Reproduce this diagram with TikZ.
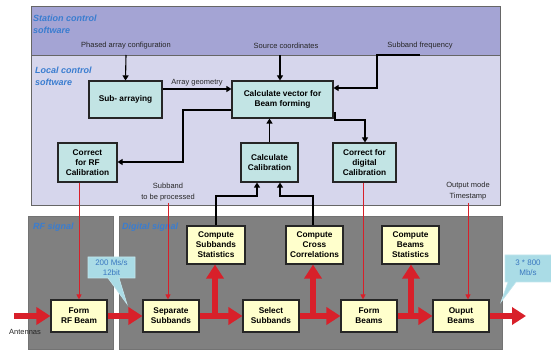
\documentclass[tikz,border=0pt]{standalone}
\usepackage{fontspec}
\setmainfont{Liberation Sans}
\usetikzlibrary{arrows.meta}
\definecolor{stationC}{HTML}{A4A4D4}
\definecolor{localC}{HTML}{D6D6EC}
\definecolor{panelC}{HTML}{808080}
\definecolor{tealC}{HTML}{C2E4E4}
\definecolor{yelC}{HTML}{FFFFCC}
\definecolor{redC}{HTML}{D8202A}
\definecolor{titleC}{HTML}{3A7DD0}
\definecolor{callC}{HTML}{AADCE6}
\definecolor{callT}{HTML}{3A78C0}
\tikzset{
  box/.style={draw=black!85, line width=1.1pt, align=center, inner sep=0pt,
    font=\fontsize{8.3}{10}\selectfont\bfseries},
  tealbox/.style={box, fill=tealC},
  yelbox/.style={box, fill=yelC, minimum width=56pt, minimum height=32pt},
  statbox/.style={box, fill=yelC, minimum width=57pt, minimum height=38pt},
  lbl/.style={font=\fontsize{7.5}{11}\selectfont, align=center, text=black!85, inner sep=0pt},
  ttl/.style={font=\fontsize{9}{12}\selectfont\bfseries\itshape, text=titleC, align=left, anchor=west, inner sep=0pt},
  bigarrow/.style={draw=redC, line width=5.5pt, -{Triangle[length=14pt,width=17pt]}},
  thinred/.style={draw=redC, line width=0.9pt, -{Triangle[length=5pt,width=5pt]}},
  blk/.style={draw=black, line width=1.1pt, -{Triangle[length=5pt,width=6pt]}},
  calltext/.style={font=\fontsize{8}{10}\selectfont, text=callT, align=center, inner sep=0pt}
}
\begin{document}
\begin{tikzpicture}[x=1pt,y=-1pt]
\useasboundingbox (0,0) rectangle (551,352);
% panels
\filldraw[fill=stationC, draw=black!60, line width=0.8pt] (31,6) rectangle (500,55);
\filldraw[fill=localC, draw=black!60, line width=0.8pt] (31,55) rectangle (500,205);
\filldraw[fill=panelC, draw=black!55, line width=0.8pt] (28,216) rectangle (113,349);
\filldraw[fill=panelC, draw=black!55, line width=0.8pt] (119,216) rectangle (502,349);
% titles
\node[ttl] (tst) at (33,24) {Station control\\software};
\node[ttl] (tlc) at (35,76) {Local control\\software};
\node[ttl] (trf) at (33,227) {RF signal};
\node[ttl] (tdg) at (122,227) {Digital signal};
% labels
\node[lbl] (lpac) at (126,46) {Phased array configuration};
\node[lbl] (lsrc) at (286,46) {Source coordinates};
\node[lbl] (lsbf) at (420,46) {Subband frequency};
\node[lbl] (lag) at (197,83) {Array geometry};
\node[lbl] (lsub) at (168,192) {Subband\\to be processed};
\node[lbl] (lout) at (468,191) {Output mode\\Timestamp};
\node[lbl] (lant) at (25,332) {Antennas};
% local boxes
\node[tealbox, minimum width=73pt, minimum height=37pt] (subarr) at (125.5,99.5) {Sub- arraying};
\node[tealbox, minimum width=101pt, minimum height=37pt] (calcvec) at (282.5,99.5) {Calculate vector for\\Beam forming};
\node[tealbox, minimum width=59pt, minimum height=39pt] (corrRF) at (87.5,162.5) {Correct\\for RF\\Calibration};
\node[tealbox, minimum width=57pt, minimum height=39pt] (calcCal) at (269.5,162.5) {Calculate\\Calibration};
\node[tealbox, minimum width=63pt, minimum height=39pt] (corrDig) at (364.5,162.5) {Correct for\\digital\\Calibration};
% signal boxes
\node[yelbox] (formRF) at (79,316) {Form\\RF Beam};
\node[yelbox] (sepSub) at (171,316) {Separate\\Subbands};
\node[yelbox] (selSub) at (271,316) {Select\\Subbands};
\node[yelbox] (formB) at (369,316) {Form\\Beams};
\node[yelbox] (outB) at (461,316) {Ouput\\Beams};
\node[statbox, minimum width=58pt] (compSS) at (216,245) {Compute\\Subbands\\Statistics};
\node[statbox] (compCC) at (314.5,245) {Compute\\Cross\\Correlations};
\node[statbox] (compBS) at (410.5,245) {Compute\\Beams\\Statistics};
% callouts
\filldraw[fill=callC, draw=callC!70!white, line width=0.6pt] (88,257) -- (135,257) -- (135,278) -- (119,278) -- (127,304) -- (108,278) -- (88,278) -- cycle;
\node[calltext] (c200) at (111.5,267.5) {200 Ms/s\\12bit};
\filldraw[fill=callC, draw=callC!70!white, line width=0.6pt] (505,255) -- (553,255) -- (553,282) -- (516,282) -- (501,302) -- (508,282) -- (505,282) -- cycle;
\node[calltext] (c800) at (528,268) {3 * 800\\Mb/s};
% coordinates
\coordinate (pA) at (126,55);
\coordinate (pS) at (280,55);
\coordinate (pF) at (420,55);
\coordinate (bS) at (215,316);
\coordinate (bC) at (313,316);
\coordinate (bB) at (411,316);
\coordinate (ant) at (14,316);
\coordinate (outE) at (526,316);
\coordinate (sbt) at (168,203);
\coordinate (omt) at (468,203);
\coordinate (dl) at (363,0);
% black connectors
\draw[blk] (pA) -- (subarr.north);
\draw[blk] (pS) -- (pS |- calcvec.north);
\draw[blk] (pF) -- (377,55) -- (377,88) -- (calcvec.east |- 0,88);
\draw[blk] (subarr.east |- 0,89) -- (calcvec.west |- 0,89);
\draw[blk] (calcvec.west |- 0,110) -- (183,110) -- (183,162) -- (corrRF.east |- 0,162);
\draw[blk] (335,112) -- (335,120) -- (365,120) -- (365,0 |- corrDig.north);
\draw[blk] (calcCal.north) -- (calcCal.north |- calcvec.south);
\draw[blk] (compSS.north) -- (216,196) -- (257,196) -- (257,0 |- calcCal.south);
\draw[blk] (313,0 |- compCC.north) -- (313,196) -- (280,196) -- (280,0 |- calcCal.south);
% thin red
\draw[thinred] (corrRF.south -| formRF.north) -- (formRF.north);
\draw[thinred] (sbt) -- (sbt |- sepSub.north);
\draw[thinred] (corrDig.south -| dl) -- (formB.north -| dl);
\draw[thinred] (omt) -- (omt |- outB.north);
% big red arrows
\draw[bigarrow] (ant) -- (formRF.west);
\draw[bigarrow] (formRF.east) -- (sepSub.west);
\draw[bigarrow] (sepSub.east) -- (selSub.west);
\draw[bigarrow] (selSub.east) -- (formB.west);
\draw[bigarrow] (formB.east) -- (outB.west);
\draw[bigarrow] (outB.east) -- (outE);
\draw[bigarrow] (bS) -- (bS |- compSS.south);
\draw[bigarrow] (bC) -- (bC |- compCC.south);
\draw[bigarrow] (bB) -- (bB |- compBS.south);
\end{tikzpicture}
\end{document}
